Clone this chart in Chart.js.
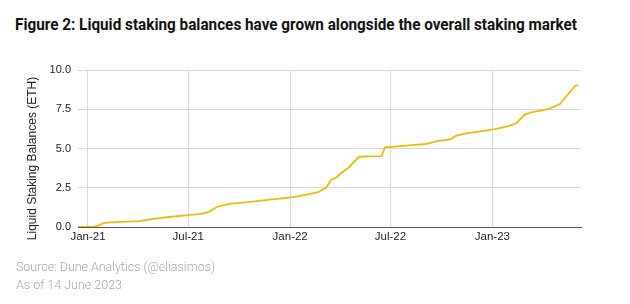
<!DOCTYPE html>
<html>
<head>
<meta charset="utf-8">
<script src="https://cdn.jsdelivr.net/npm/chart.js@4"></script>
<style>
    body { margin: 0; background: #fff; width: 630px; height: 304px; overflow: hidden; }
    #title { position: absolute; left: 15px; top: 15px; font-family: Roboto, sans-serif; font-weight: bold; font-size: 16px; color: #111; white-space: nowrap; transform-origin: 0 0; }
    .note { position: absolute; left: 16px; font-family: Roboto, sans-serif; font-weight: 300; font-size: 13px; color: #a6a6a6; white-space: nowrap; transform-origin: 0 0; }
    #wrap { position: absolute; left: 0; top: 0; width: 630px; height: 304px; }
</style>
</head>
<body>
<div id="title" data-w="562">Figure 2: Liquid staking balances have grown alongside the overall staking market</div>
<div id="wrap"><canvas id="chart" width="630" height="304"></canvas></div>
<div class="note" data-w="199" style="top:259px">Source: Dune Analytics (@eliasimos)</div>
<div class="note" data-w="106" style="top:277px">As of 14 June 2023</div>
<script>
// values
var dates = ["2020-12-14", "2021-01-10", "2021-01-20", "2021-01-28", "2021-02-10", "2021-04-04",
    "2021-04-26", "2021-05-23", "2021-06-30", "2021-07-25", "2021-08-08", "2021-08-23",
    "2021-09-13", "2021-10-25", "2021-11-30", "2022-01-03", "2022-01-17", "2022-02-19",
    "2022-03-07", "2022-03-16", "2022-03-25", "2022-04-03", "2022-04-17", "2022-05-05",
    "2022-05-18", "2022-06-15", "2022-06-21", "2022-07-03", "2022-09-04", "2022-09-26",
    "2022-10-17", "2022-10-28", "2022-11-15", "2023-01-06", "2023-01-30", "2023-02-13",
    "2023-03-01", "2023-03-12", "2023-04-12", "2023-05-03", "2023-05-18", "2023-05-30",
    "2023-06-05"];
var balances = [0.00, 0.02, 0.08, 0.24, 0.30, 0.38,
    0.50, 0.62, 0.76, 0.83, 0.98, 1.30,
    1.47, 1.62, 1.76, 1.89, 1.97, 2.20,
    2.50, 3.00, 3.15, 3.42, 3.80, 4.46,
    4.50, 4.52, 5.08, 5.11, 5.29, 5.48,
    5.58, 5.82, 5.97, 6.24, 6.43, 6.60,
    7.18, 7.30, 7.50, 7.83, 8.47, 8.98,
    9.04];
var tickDates = ["2021-01-01", "2021-07-01", "2022-01-01", "2022-07-01", "2023-01-01"];
var tickLabels = ["Jan-21", "Jul-21", "Jan-22", "Jul-22", "Jan-23"];
var yTicks = [0, 2.5, 5, 7.5, 10];

// squeeze the header / footer text to the widths seen in the reference
document.querySelectorAll("[data-w]").forEach(function (el) {
    var w = el.getBoundingClientRect().width;
    el.style.transform = "scaleX(" + (el.dataset.w / w) + ")";
});

var origin = Date.UTC(2021, 0, 1);
function toDay(s) {
    var p = s.split("-");
    return (Date.UTC(+p[0], +p[1] - 1, +p[2]) - origin) / 86400000;
}

var points = dates.map(function (d, i) {
    return {x: toDay(d), y: balances[i]};
});
var tickDays = tickDates.map(toDay);

var font = {family: "'Liberation Sans', Arial, sans-serif", size: 11};

new Chart(document.getElementById("chart"), {
    type: "line",
    data: {
        datasets: [{
            data: points,
            borderColor: "#F0B90B",
            borderWidth: 1.8,
            pointRadius: 0,
            tension: 0,
            fill: false
        }]
    },
    options: {
        responsive: false,
        animation: false,
        devicePixelRatio: 1,
        layout: {padding: {left: 21, right: 49, top: 70, bottom: 57}},
        plugins: {legend: {display: false}, tooltip: {enabled: false}},
        scales: {
            x: {
                type: "linear",
                min: toDay("2020-12-14"),
                max: toDay("2023-06-10"),
                afterBuildTicks: function (axis) {
                    axis.ticks = tickDays.map(function (v) { return {value: v}; });
                },
                afterFit: function (axis) { axis.height = 20; },
                ticks: {
                    autoSkip: false,
                    maxRotation: 0,
                    padding: 3,
                    color: "#222",
                    font: {family: font.family, size: 11.5},
                    callback: function (v, i) { return tickLabels[i]; }
                },
                grid: {color: "#d9d9d9", drawTicks: false},
                border: {display: true, color: "#555", width: 1}
            },
            y: {
                min: 0,
                max: 10,
                afterBuildTicks: function (axis) {
                    axis.ticks = yTicks.map(function (v) { return {value: v}; });
                },
                afterFit: function (axis) { axis.width = 57; },
                ticks: {
                    padding: 7,
                    color: "#222",
                    font: font,
                    callback: function (v) { return v.toFixed(1); }
                },
                grid: {color: "#d9d9d9", drawTicks: false},
                border: {display: false},
                title: {
                    display: true,
                    // trailing spaces push the label a little below the axis centre, as in the reference
                    text: "Liquid Staking Balances (ETH)\u00a0\u00a0\u00a0\u00a0\u00a0\u00a0",
                    color: "#222",
                    font: {family: font.family, size: 12},
                    padding: 4
                }
            }
        }
    }
});
</script>
</body>
</html>
